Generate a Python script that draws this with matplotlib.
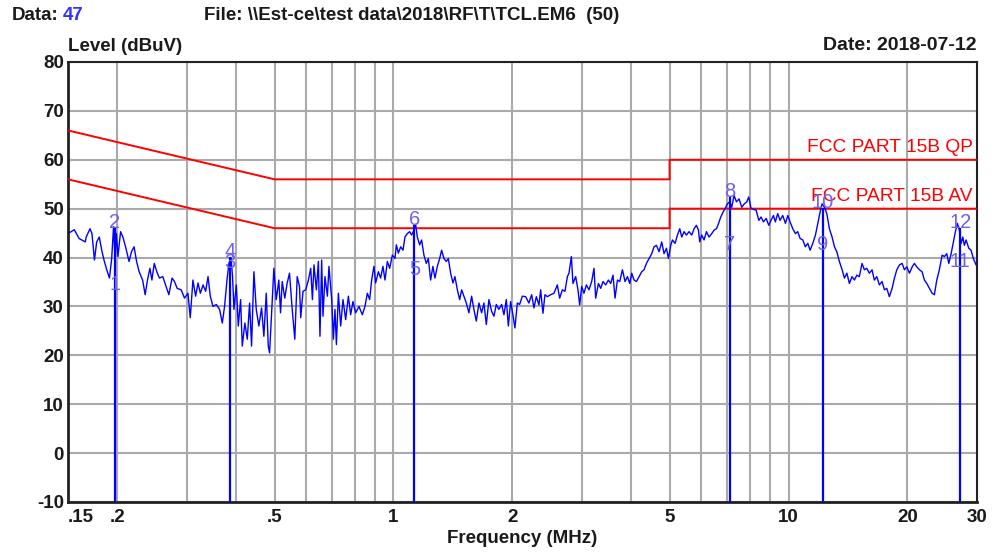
import matplotlib
matplotlib.use('Agg')
import matplotlib.pyplot as plt
import numpy as np

plt.rcParams['font.family'] = ['Liberation Sans', 'DejaVu Sans']
plt.rcParams['axes.unicode_minus'] = False

# ---- scan trace (MHz, dBuV), one chunk per band ----
freq_a = [0.150, 0.1556, 0.160, 0.1659, 0.1668, 0.1705, 0.1725, 0.175, 0.1773, 0.180,
          0.1826, 0.185, 0.188, 0.191, 0.1935, 0.1956, 0.1974, 0.1989, 0.2007, 0.2038,
          0.2066, 0.2098, 0.2141, 0.2172, 0.2205, 0.2237, 0.2271, 0.2317, 0.2352, 0.2384,
          0.2418, 0.2446, 0.248, 0.2517, 0.2556, 0.2606, 0.2657, 0.270, 0.2751, 0.279,
          0.2834, 0.2901, 0.2958, 0.3018, 0.3059, 0.3107, 0.3156, 0.3201, 0.3244, 0.3296,
          0.3346, 0.3393, 0.3438, 0.3492, 0.356, 0.3629, 0.3687, 0.3736, 0.3789, 0.3833,
          0.3879, 0.3914, 0.3946, 0.4001, 0.4047, 0.4102, 0.4142, 0.4206, 0.4265, 0.4323,
          0.4373, 0.4433, 0.4494, 0.4563, 0.4635, 0.4698, 0.4764, 0.4820, 0.4857, 0.4914,
          0.4980, 0.5049, 0.5126, 0.5177, 0.5228, 0.5307, 0.5382, 0.5455, 0.5542, 0.5626,
          0.5705, 0.5782]
level_a = [44.9, 45.7, 43.9, 43.2, 44.2, 45.9, 44.9, 39.5, 43.2, 44.2,
           41.5, 39.5, 37.5, 35.8, 39.8, 46.3, 39.5, 44.9, 40.2, 45.3,
           44.2, 42.2, 39.2, 41.2, 42.2, 39.2, 37.1, 35.4, 32.4, 35.4,
           37.8, 35.4, 38.8, 37.1, 35.8, 36.1, 34.1, 32.4, 35.8, 35.1,
           33.7, 33.4, 31.7, 32.7, 27.7, 35.4, 32.1, 34.8, 32.7, 34.4,
           33.1, 36.1, 32.1, 30.0, 30.4, 29.4, 26.6, 30.0, 35.4, 38.8,
           40.0, 36.1, 29.4, 34.4, 26.0, 31.4, 21.9, 26.6, 23.3, 30.7,
           21.9, 37.1, 29.4, 26.0, 29.7, 23.9, 32.7, 21.9, 20.5, 28.7,
           37.8, 31.4, 35.4, 28.7, 35.1, 31.7, 34.8, 36.8, 29.4, 23.3,
           36.1, 34.1]

freq_b = [0.5824, 0.5902, 0.5996, 0.6091, 0.6173, 0.6234, 0.6292, 0.6380, 0.6455, 0.6515,
          0.6580, 0.6630, 0.6708, 0.6803, 0.6866, 0.6976, 0.7045, 0.7111, 0.7170, 0.7253,
          0.7351, 0.7451, 0.7568, 0.7688, 0.7791, 0.7896, 0.8021, 0.8177, 0.8341, 0.8469,
          0.8587, 0.8704, 0.8805, 0.8925, 0.9012, 0.9156, 0.9279, 0.9404, 0.9517, 0.9650,
          0.9780, 0.9935, 1.0087, 1.0169, 1.0288, 1.0427, 1.0569, 1.0691, 1.0842, 1.0988,
          1.1117, 1.1267, 1.1379, 1.1491, 1.1646, 1.1783, 1.1942, 1.2110, 1.2253, 1.2418,
          1.2585, 1.2734, 1.2914, 1.3088, 1.3240, 1.3421, 1.3608, 1.3768, 1.3954, 1.4142,
          1.4309, 1.4511, 1.4707, 1.4880, 1.5075, 1.5288, 1.5523, 1.5768, 1.5980, 1.6206,
          1.6455, 1.6715, 1.6940, 1.7180, 1.7443, 1.7719, 1.7957, 1.8211, 1.8490, 1.8782,
          1.9039, 1.9304, 1.9532, 1.9795, 2.0061, 2.0298, 2.0585, 2.0862, 2.1191]
level_b = [27.7, 33.1, 33.4, 35.4, 37.8, 31.4, 38.5, 33.4, 39.2, 23.9,
           39.5, 28.0, 36.1, 32.1, 38.2, 31.4, 23.3, 29.4, 22.2, 32.7,
           26.0, 31.4, 27.3, 32.1, 28.3, 31.0, 28.7, 30.0, 28.3, 30.0,
           32.7, 31.4, 35.4, 38.2, 34.8, 37.1, 35.8, 38.2, 35.4, 39.2,
           37.8, 40.5, 39.8, 42.6, 40.9, 42.2, 41.5, 44.2, 44.9, 45.3,
           44.6, 45.6, 46.8, 44.2, 42.6, 43.6, 40.5, 38.8, 39.8, 35.4,
           38.2, 35.8, 38.2, 39.8, 41.5, 39.8, 39.2, 39.8, 36.8, 34.8,
           36.1, 33.4, 31.4, 33.4, 32.1, 30.7, 28.7, 32.1, 29.4, 27.0,
           30.7, 28.7, 30.7, 26.3, 31.4, 29.0, 28.0, 30.4, 29.4, 30.4,
           28.3, 31.4, 26.0, 31.0, 28.3, 25.6, 30.7, 30.4, 32.1]

freq_c = [2.1605, 2.2022, 2.2375, 2.2676, 2.2996, 2.3349, 2.3580, 2.3898, 2.4180, 2.4518,
          2.4997, 2.5481, 2.5990, 2.6345, 2.6762, 2.7172, 2.7557, 2.7812, 2.8205, 2.8467,
          2.8922, 2.9311, 2.9603, 2.9953, 3.0354, 3.0784, 3.1256, 3.1750, 3.2178, 3.2498,
          3.3019, 3.3463, 3.3913, 3.4448, 3.5000, 3.5472, 3.5950, 3.6375, 3.6890, 3.7389,
          3.7980, 3.8563, 3.9109, 3.9635, 4.0094, 4.0642, 4.1208, 4.1838, 4.2508, 4.3078,
          4.3689, 4.4359, 4.5059, 4.5665, 4.6311, 4.7020, 4.7763, 4.8406, 4.9091, 4.9671,
          5.0338, 5.0839, 5.1617, 5.2336, 5.3052, 5.3666, 5.4399, 5.5155, 5.6001, 5.6886,
          5.7664, 5.8468, 5.9159, 5.9604, 6.0308, 6.1120, 6.1985, 6.2919, 6.3928, 6.4788,
          6.5706, 6.6467, 6.7375, 6.8280, 6.9087, 7.0048, 7.0993, 7.1830, 7.2799, 7.3828,
          7.4960, 7.6145, 7.73, 7.84, 7.93, 8.04]
level_c = [32.0, 30.7, 32.4, 29.7, 32.0, 30.3, 33.4, 28.6, 32.4, 32.0,
           32.4, 32.7, 34.4, 31.7, 33.4, 33.1, 36.1, 36.8, 40.2, 34.7,
           36.1, 33.4, 30.3, 34.1, 32.7, 34.4, 33.4, 35.1, 37.8, 31.7,
           34.7, 33.7, 35.1, 34.4, 35.4, 34.7, 36.4, 31.7, 35.4, 35.1,
           37.5, 35.1, 36.1, 34.7, 36.8, 35.4, 35.1, 36.1, 37.1, 37.5,
           38.8, 39.8, 40.8, 42.2, 42.5, 41.2, 43.2, 40.8, 41.9, 39.8,
           42.5, 43.6, 42.9, 44.6, 45.9, 44.2, 45.3, 44.6, 45.3, 44.6,
           45.9, 46.6, 45.6, 43.2, 44.6, 43.6, 45.3, 44.2, 44.9, 45.6,
           45.9, 46.9, 48.3, 49.3, 50.0, 51.0, 51.4, 50.3, 52.7, 51.4,
           52.0, 50.3, 51.0, 51.4, 52.4, 50.0]

freq_d = [8.28, 8.41, 8.52, 8.64, 8.78, 8.91, 9.03, 9.16, 9.26, 9.39,
          9.52, 9.67, 9.82, 9.96, 10.09, 10.25, 10.41, 10.55, 10.70, 10.87,
          11.03, 11.19, 11.34, 11.52, 11.70, 11.86, 12.02, 12.16, 12.33, 12.50,
          12.69, 12.89, 13.07, 13.25, 13.45, 13.67, 13.85, 14.05, 14.26, 14.48,
          14.68, 14.89, 15.11, 15.35, 15.56, 15.78, 16.02, 16.27, 16.49, 16.73,
          16.98, 17.25, 17.49, 17.73, 18.00, 18.29, 18.54, 18.80, 19.09, 19.39,
          19.65, 19.93, 20.24, 20.56, 20.83, 21.12, 21.45, 21.78, 22.08, 22.39,
          22.73, 23.09, 23.40, 23.73, 24.09, 24.48, 24.81, 25.16, 25.45, 25.80,
          26.15, 26.45, 26.76, 27.07, 27.35, 27.62, 27.87, 28.15, 28.60, 28.98,
          29.37, 29.84]
level_d = [49.7, 47.6, 48.3, 47.3, 48.0, 46.6, 47.6, 48.6, 47.3, 49.0,
           47.6, 48.6, 47.0, 48.6, 47.3, 45.9, 44.9, 45.3, 43.9, 43.6,
           42.2, 42.9, 41.5, 42.9, 44.6, 47.0, 49.3, 51.0, 50.3, 49.0,
           45.9, 44.2, 42.2, 41.2, 39.2, 37.5, 35.8, 36.8, 34.7, 36.1,
           35.4, 36.4, 36.1, 38.8, 37.5, 37.8, 36.8, 37.5, 35.4, 36.1,
           34.4, 35.1, 33.4, 33.7, 32.0, 33.7, 35.8, 37.5, 38.5, 38.8,
           37.5, 38.1, 36.8, 38.1, 38.8, 38.1, 37.5, 37.1, 35.4, 34.7,
           33.7, 32.7, 32.4, 35.4, 37.5, 40.5, 40.2, 40.8, 38.8, 40.8,
           43.2, 45.3, 47.0, 45.6, 42.9, 44.2, 42.5, 43.6, 41.9, 41.5,
           39.8, 38.5]

# ---- limit lines (FCC Part 15B conducted) ----
limit_freq = [0.15, 0.5, 5, 5, 30]
qp_limit = [66, 56, 56, 60, 60]
av_limit = [56, 46, 46, 50, 50]

# ---- markers ----
marker_ids = ['1', '2', '3', '4', '5', '6', '7', '8', '9', '10', '11', '12']
marker_freq = [0.197, 0.197, 0.386, 0.386, 1.13, 1.13, 7.1, 7.1, 12.2, 12.2, 27.2, 27.2]
marker_level = [33.4, 46.0, 37.9, 40.1, 36.4, 46.7, 41.5, 52.4, 41.5, 50.1, 38.1, 46.0]

xtick_vals = [0.15, 0.2, 0.5, 1, 2, 5, 10, 20, 30]
xtick_labels = ['.15', '.2', '.5', '1', '2', '5', '10', '20', '30']
xgrid_vals = [0.2, 0.3, 0.4, 0.5, 0.6, 0.7, 0.8, 0.9, 1,
              2, 3, 4, 5, 6, 7, 8, 9, 10, 20]

TXT = '#1a1a1a'
BLUE = '#0000ff'
RED = '#ff0000'
MARK = '#7060f0'
FS = 13.5

fig = plt.figure(figsize=(9.95, 5.53), dpi=100)
ax = fig.add_axes([68 / 995, 1 - 502 / 553, 909 / 995, 440 / 553])
ax.set_xscale('log')
ax.set_xlim(0.15, 30)
ax.set_ylim(-10, 80)

for f in xgrid_vals:
    ax.axvline(f, color='#aaaaaa', lw=1.5, zorder=1)
for v in range(-10, 81, 10):
    ax.axhline(v, color='#aaaaaa', lw=1.5, zorder=1)

ax.plot(limit_freq, qp_limit, color=RED, lw=1.4, zorder=3)
ax.plot(limit_freq, av_limit, color=RED, lw=1.4, zorder=3)
ax.text(29.3, 60.8, 'FCC PART 15B QP', color=RED, fontsize=13.8,
        ha='right', va='bottom', zorder=6)
ax.text(29.3, 50.8, 'FCC PART 15B AV', color=RED, fontsize=13.8,
        ha='right', va='bottom', zorder=6)

trace_f = np.concatenate([freq_a, freq_b, freq_c, freq_d])
trace_v = np.concatenate([level_a, level_b, level_c, level_d])
ax.plot(trace_f, trace_v, color=BLUE, lw=1.0, zorder=4)

# marker stems: one stem per pair, up to the higher reading
for i in range(0, len(marker_freq), 2):
    top = max(marker_level[i], marker_level[i + 1])
    ax.vlines(marker_freq[i], -10, top, color=BLUE, lw=1.6, zorder=5)
for mid, f, v in zip(marker_ids, marker_freq, marker_level):
    ax.text(f, v, mid, color=MARK, fontsize=14.5, ha='center', va='baseline', zorder=6)

ax.set_xticks(xtick_vals)
ax.set_xticklabels(xtick_labels)
ax.xaxis.set_minor_locator(matplotlib.ticker.NullLocator())
ax.set_yticks(range(-10, 81, 10))
ax.tick_params(length=0, labelsize=FS, colors=TXT, pad=5)
ax.tick_params(axis='y', pad=3)
for lab in ax.get_xticklabels() + ax.get_yticklabels():
    lab.set_fontweight('bold')
ax.get_xticklabels()[0].set_ha('left')

for s in ax.spines.values():
    s.set_color('#222222')
    s.set_linewidth(1.5)
ax.spines['left'].set_linewidth(2)
ax.spines['bottom'].set_linewidth(2)

ax.set_xlabel('Frequency (MHz)', fontsize=FS, fontweight='bold', color=TXT, labelpad=3)

fig.text(12 / 995, 1 - 16 / 553, 'Data:', fontsize=FS, fontweight='bold',
         color=TXT, va='center', ha='left')
fig.text(63 / 995, 1 - 16 / 553, '47', fontsize=FS, fontweight='bold',
         color='#3030ff', va='center', ha='left')
fig.text(204 / 995, 1 - 16 / 553, 'File: \\\\Est-ce\\test data\\2018\\RF\\T\\TCL.EM6  (50)',
         fontsize=FS, fontweight='bold', color=TXT, va='center', ha='left')
fig.text(68 / 995, 1 - 47 / 553, 'Level (dBuV)', fontsize=FS, fontweight='bold',
         color=TXT, va='center', ha='left')
fig.text(977 / 995, 1 - 45 / 553, 'Date: 2018-07-12', fontsize=14, fontweight='bold',
         color=TXT, va='center', ha='right')

fig.savefig('out.png', dpi=100)
